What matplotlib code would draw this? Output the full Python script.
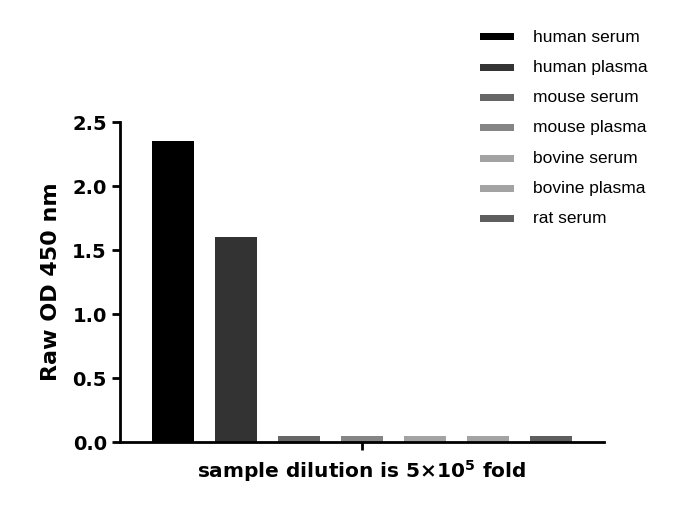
import numpy as np
import matplotlib.pyplot as plt

samples = ['human serum', 'human plasma', 'mouse serum', 'mouse plasma',
           'bovine serum', 'bovine plasma', 'rat serum']
od450 = [2.35, 1.60, 0.05, 0.05, 0.05, 0.05, 0.05]
colors = ['#000000', '#333333', '#666666', '#858585', '#a3a3a3', '#a3a3a3', '#5e5e5e']
yticks = [0.0, 0.5, 1.0, 1.5, 2.0, 2.5]

fig = plt.figure(figsize=(6.83, 5.07), dpi=100)
ax = fig.add_axes([120/683, 1 - 442/507, (604-120)/683, (442-122)/507])

x = np.arange(len(samples))
for i in range(len(samples)):
    ax.bar(x[i], od450[i], width=0.667, color=colors[i], label=samples[i], zorder=1)

ax.set_xlim(-0.84, 6.84)
ax.set_ylim(0, 2.5)
ax.set_yticks(yticks)
ax.set_yticklabels(['%.1f' % v for v in yticks], fontsize=14, fontweight='bold')
ax.set_xticks([3])
ax.set_xticklabels([''])
ax.tick_params(axis='both', width=2, length=6, direction='out')

for s in ['top', 'right']:
    ax.spines[s].set_visible(False)
for s in ['left', 'bottom']:
    ax.spines[s].set_linewidth(2)

ax.set_ylabel('Raw OD 450 nm', fontsize=16, fontweight='bold', labelpad=8)
ax.set_xlabel('sample dilution is 5×10$^{\\mathbf{5}}$ fold', fontsize=14.5, fontweight='bold', labelpad=2)

leg = fig.legend(loc='upper left', bbox_to_anchor=(464/683, 1 - 14/507), frameon=False,
                 handlelength=2.0, handleheight=0.5, handletextpad=1.1,
                 labelspacing=0.88, prop={'family': 'Liberation Sans', 'size': 12.5})
for h in leg.legend_handles:
    h.set_height(5)

plt.savefig('out.png', dpi=100)
